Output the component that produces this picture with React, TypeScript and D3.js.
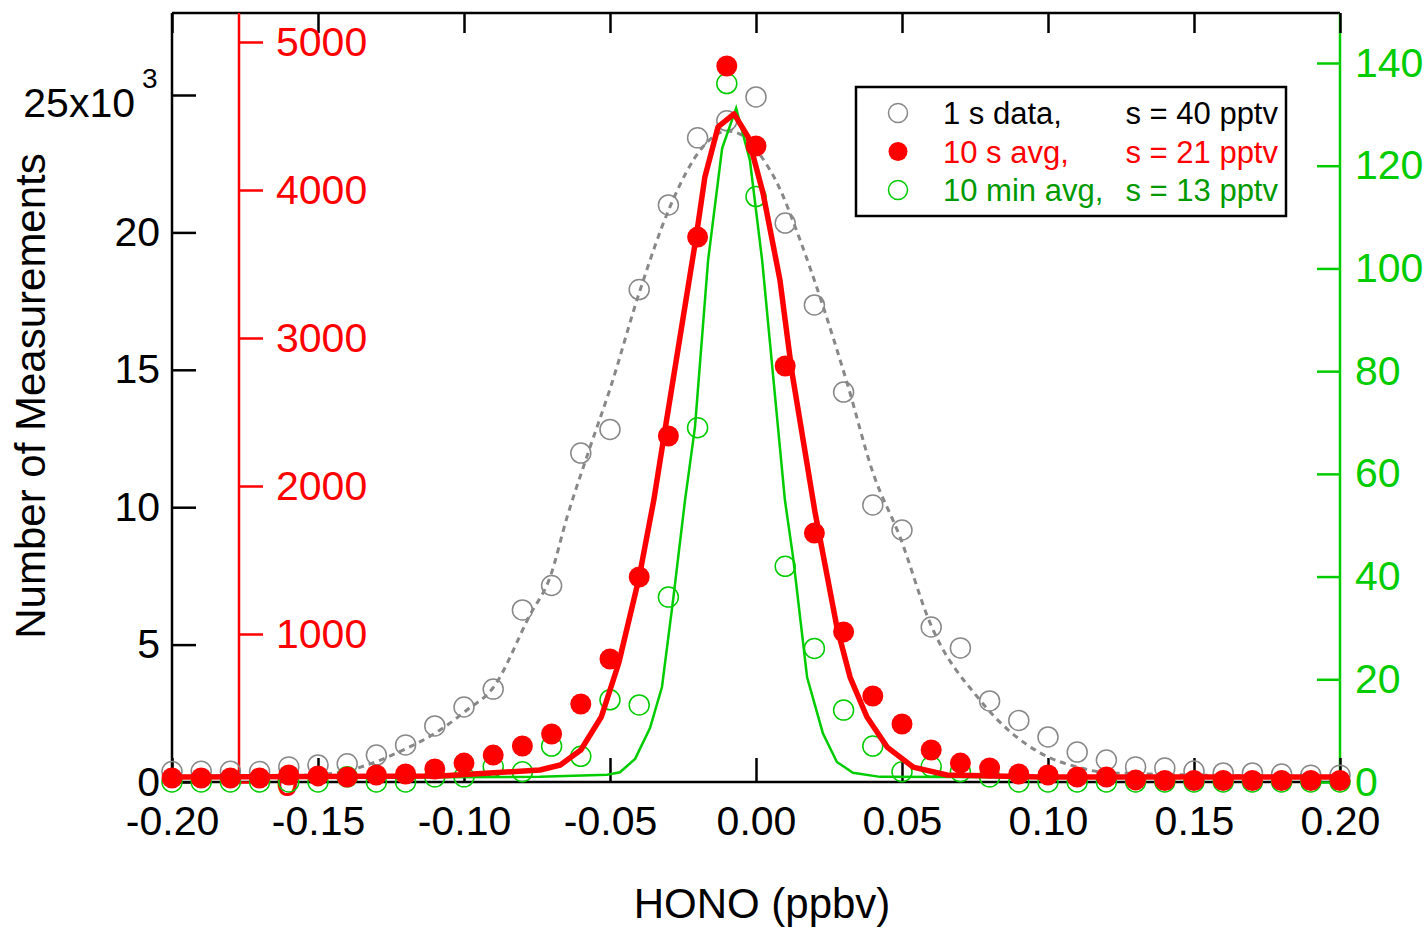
import React, { useEffect, useRef } from "react";
import * as d3 from "d3";

// HONO bin centres (ppbv)
const bins = [
  -0.2, -0.19, -0.18, -0.17, -0.16, -0.15, -0.14, -0.13, -0.12, -0.11, -0.1,
  -0.09, -0.08, -0.07, -0.06, -0.05, -0.04, -0.03, -0.02, -0.01, 0.0, 0.01,
  0.02, 0.03, 0.04, 0.05, 0.06, 0.07, 0.08, 0.09, 0.1, 0.11, 0.12, 0.13, 0.14,
  0.15, 0.16, 0.17, 0.18, 0.19, 0.2
];

// 1 s data (left axis)
const oneSec = [
  380, 390, 390, 380, 550, 620, 660, 980, 1350, 2040, 2730, 3380, 6260, 7150,
  11970, 12830, 17920, 21000, 23440, 24060, 24930, 20340, 17360, 14190, 10080,
  9170, 5640, 4880, 2950, 2240, 1640, 1090, 800, 550, 510, 400, 330, 330, 290,
  250, 250
];

// 10 s averages (red axis)
const tenSec = [
  27, 27, 27, 27, 47, 41, 34, 47, 54, 88, 128, 182, 243, 324, 527, 831, 1385,
  2338, 3682, 4838, 4297, 2811, 1682, 1014, 581, 392, 216, 128, 95, 54, 47, 34,
  34, 14, 10, 10, 10, 10, 10, 10, 10
];

// 10 min averages (green axis)
const tenMin = [
  0, 0, 0, 0, 0, 0, 1, 0, 0, 1, 1, 3, 2, 7, 5, 16, 15, 36, 69, 136, 114, 42,
  26, 14, 7, 2, 3, 2, 1, 0, 0, 0, 0, 0, 0, 0, 0, 0, 0, 0, 0
];

// gaussian fits
const oneSecFit: [number, number][] = [
  [-0.2, 200], [-0.16, 230], [-0.1435, 330], [-0.1332, 620], [-0.1209, 1160],
  [-0.1082, 1890], [-0.099, 2620], [-0.0901, 3420], [-0.0774, 6080],
  [-0.0705, 7460], [-0.0647, 9640], [-0.0568, 12190], [-0.05, 14300],
  [-0.0397, 17900], [-0.0295, 20920], [-0.0182, 23110], [-0.0099, 23690],
  [-0.0048, 23540], [0.0014, 22820], [0.0072, 21800], [0.0151, 19720],
  [0.0226, 17430], [0.0312, 14520], [0.0401, 11240], [0.0493, 8920],
  [0.0596, 5790], [0.0767, 2980], [0.0973, 1060], [0.1099, 550], [0.1212, 330],
  [0.2, 200]
];

const tenSecFit: [number, number][] = [
  [-0.2, 34], [-0.108, 40], [-0.074, 81], [-0.067, 115], [-0.06, 216],
  [-0.053, 439], [-0.047, 804], [-0.04, 1385], [-0.035, 1905], [-0.0315, 2338],
  [-0.0205, 3682], [-0.0175, 4088], [-0.013, 4426], [-0.0075, 4514],
  [-0.0027, 4358], [0.0024, 3980], [0.0082, 3392], [0.0123, 2770],
  [0.0202, 1824], [0.0277, 1047], [0.0322, 709], [0.038, 439], [0.0449, 236],
  [0.0538, 101], [0.0654, 47], [0.0973, 34], [0.2, 34]
];

const tenMinFit: [number, number][] = [
  [-0.2, 0.8], [-0.074, 1.0], [-0.051, 1.4], [-0.0466, 1.9], [-0.0414, 4.5],
  [-0.0363, 10.5], [-0.0322, 18.5], [-0.0284, 35.4], [-0.0243, 54.9],
  [-0.0209, 69.1], [-0.0164, 101.6], [-0.0116, 123.4], [-0.0068, 131.2],
  [-0.0021, 121.1], [0.0021, 101.6], [0.0099, 54.9], [0.0127, 43.8],
  [0.0175, 20.4], [0.0229, 9.5], [0.0277, 3.9], [0.0332, 1.8], [0.0425, 1.0],
  [0.2, 0.8]
];

const xTicks = [-0.2, -0.15, -0.1, -0.05, 0, 0.05, 0.1, 0.15, 0.2];
const leftTicks = [0, 5000, 10000, 15000, 20000, 25000];
const redTicks = [0, 1000, 2000, 3000, 4000, 5000];
const greenTicks = [0, 20, 40, 60, 80, 100, 120, 140];

const legendRows = [
  { label: "1 s data,", sigma: "s = 40 pptv", color: "#000" },
  { label: "10 s avg,", sigma: "s = 21 pptv", color: "#ff0000" },
  { label: "10 min avg,", sigma: "s = 13 pptv", color: "#009a00" }
];

const RED = "#ff0000";
const GREEN = "#00cc00";
const GRAY = "#888888";
const FONT = "'Liberation Sans', Arial, sans-serif";

export default function App() {
  const ref = useRef<SVGSVGElement>(null);

  useEffect(() => {
    const w = 1427;
    const h = 927;
    const left = 172;
    const right = 1340;
    const top = 13;
    const bottom = 782;
    const redX = 239;

    const svg = d3.select(ref.current);
    svg.selectAll("*").remove();
    svg.attr("width", w).attr("height", h);

    const x = d3.scaleLinear().domain([-0.2, 0.2]).range([left, right]);
    const yL = d3.scaleLinear().domain([0, 25000]).range([bottom, 95]);
    const yR = d3.scaleLinear().domain([0, 5000]).range([bottom, 42]);
    const yG = d3.scaleLinear().domain([0, 140]).range([bottom, 63]);

    const styleAxis = (g: any, color: string, width: number) => {
      g.select(".domain").remove();
      g.selectAll("line").attr("stroke", color).attr("stroke-width", width);
      g.selectAll("text")
        .attr("fill", color)
        .style("font-family", FONT)
        .style("font-size", "41px");
    };

    // frame
    svg.append("line").attr("x1", left).attr("x2", right).attr("y1", top).attr("y2", top)
      .attr("stroke", "#000").attr("stroke-width", 2.5);
    svg.append("line").attr("x1", left).attr("x2", right).attr("y1", bottom).attr("y2", bottom)
      .attr("stroke", "#000").attr("stroke-width", 2.5);
    svg.append("line").attr("x1", left).attr("x2", left).attr("y1", top).attr("y2", bottom)
      .attr("stroke", "#000").attr("stroke-width", 2.5);
    svg.append("line").attr("x1", redX).attr("x2", redX).attr("y1", top).attr("y2", bottom)
      .attr("stroke", RED).attr("stroke-width", 2.5);
    svg.append("line").attr("x1", right).attr("x2", right).attr("y1", top).attr("y2", bottom)
      .attr("stroke", GREEN).attr("stroke-width", 2.5);

    // bottom axis
    svg.append("g")
      .attr("transform", `translate(0,${bottom})`)
      .call(
        d3.axisBottom(x).tickValues(xTicks).tickSizeInner(-24).tickSizeOuter(0)
          .tickPadding(24).tickFormat((d: any) => (+d).toFixed(2))
      )
      .call((g: any) => styleAxis(g, "#000", 2.5));

    // top ticks
    svg.append("g")
      .attr("transform", `translate(0,${top})`)
      .call(d3.axisTop(x).tickValues(xTicks).tickSizeInner(-20).tickSizeOuter(0).tickFormat(() => ""))
      .call((g: any) => styleAxis(g, "#000", 2.5));

    // left axis
    svg.append("g")
      .attr("transform", `translate(${left},0)`)
      .call(
        d3.axisLeft(yL).tickValues(leftTicks).tickSizeInner(-24).tickSizeOuter(0)
          .tickPadding(12).tickFormat((d: any) => (d === 25000 ? "" : String(d / 1000)))
      )
      .call((g: any) => styleAxis(g, "#000", 2.5));

    svg.append("text")
      .attr("x", 135).attr("y", yL(25000) + 22)
      .attr("text-anchor", "end")
      .style("font-family", FONT).style("font-size", "41px")
      .text("25x10");
    svg.append("text")
      .attr("x", 142).attr("y", yL(25000) - 7)
      .style("font-family", FONT).style("font-size", "28px")
      .text("3");

    // red axis
    svg.append("g")
      .attr("transform", `translate(${redX},0)`)
      .call(
        d3.axisRight(yR).tickValues(redTicks).tickSizeInner(24).tickSizeOuter(0)
          .tickPadding(13).tickFormat((d: any) => String(d))
      )
      .call((g: any) => styleAxis(g, RED, 2.5));

    // green axis
    svg.append("g")
      .attr("transform", `translate(${right},0)`)
      .call(
        d3.axisRight(yG).tickValues(greenTicks).tickSizeInner(-23).tickSizeOuter(0)
          .tickPadding(15).tickFormat((d: any) => String(d))
      )
      .call((g: any) => styleAxis(g, GREEN, 2.5));

    // axis titles
    svg.append("text")
      .attr("x", 762).attr("y", 918)
      .attr("text-anchor", "middle")
      .style("font-family", FONT).style("font-size", "42px")
      .text("HONO (ppbv)");
    svg.append("text")
      .attr("transform", "translate(45,396) rotate(-90)")
      .attr("text-anchor", "middle")
      .style("font-family", FONT).style("font-size", "42px")
      .text("Number of Measurements");

    // 1 s data
    svg.append("g").selectAll("circle")
      .data(bins)
      .join("circle")
      .attr("cx", (d) => x(d))
      .attr("cy", (_, i) => yL(oneSec[i]))
      .attr("r", 10)
      .attr("fill", "none")
      .attr("stroke", GRAY)
      .attr("stroke-width", 1.5);

    const fitLine = (ys: any) =>
      d3.line<[number, number]>().x((d) => x(d[0])).y((d) => ys(d[1]));

    svg.append("path")
      .attr("d", fitLine(yL).curve(d3.curveMonotoneX)(oneSecFit))
      .attr("fill", "none")
      .attr("stroke", GRAY)
      .attr("stroke-width", 3)
      .attr("stroke-dasharray", "6,5");

    // 10 min avg
    svg.append("g").selectAll("circle")
      .data(bins)
      .join("circle")
      .attr("cx", (d) => x(d))
      .attr("cy", (_, i) => yG(tenMin[i]))
      .attr("r", 10)
      .attr("fill", "none")
      .attr("stroke", GREEN)
      .attr("stroke-width", 1.5);

    svg.append("path")
      .attr("d", fitLine(yG)(tenMinFit))
      .attr("fill", "none")
      .attr("stroke", GREEN)
      .attr("stroke-width", 2.5);

    // 10 s avg
    svg.append("path")
      .attr("d", fitLine(yR)(tenSecFit))
      .attr("fill", "none")
      .attr("stroke", RED)
      .attr("stroke-width", 5.5)
      .attr("stroke-linejoin", "round");

    svg.append("g").selectAll("circle")
      .data(bins)
      .join("circle")
      .attr("cx", (d) => x(d))
      .attr("cy", (_, i) => yR(tenSec[i]))
      .attr("r", 10.5)
      .attr("fill", RED);

    // legend
    const lg = svg.append("g");
    lg.append("rect")
      .attr("x", 856).attr("y", 87).attr("width", 430).attr("height", 129)
      .attr("fill", "#fff").attr("stroke", "#000").attr("stroke-width", 2.5);
    legendRows.forEach((r, i) => {
      const cy = 113 + i * 38.5;
      const mk = lg.append("circle").attr("cx", 898).attr("cy", cy).attr("r", 9.5);
      if (i === 0) mk.attr("fill", "none").attr("stroke", GRAY).attr("stroke-width", 1.5);
      if (i === 1) mk.attr("fill", RED);
      if (i === 2) mk.attr("fill", "none").attr("stroke", GREEN).attr("stroke-width", 1.5);
      lg.append("text")
        .attr("x", 943).attr("y", cy + 11)
        .attr("fill", r.color)
        .style("font-family", FONT).style("font-size", "31px")
        .text(r.label);
      lg.append("text")
        .attr("x", 1278).attr("y", cy + 11)
        .attr("text-anchor", "end")
        .attr("fill", r.color)
        .style("font-family", FONT).style("font-size", "31px")
        .text(r.sigma);
    });
  }, []);

  return (
    <div style={{ position: "absolute", left: 0, top: 0 }}>
      <svg ref={ref} />
    </div>
  );
}
